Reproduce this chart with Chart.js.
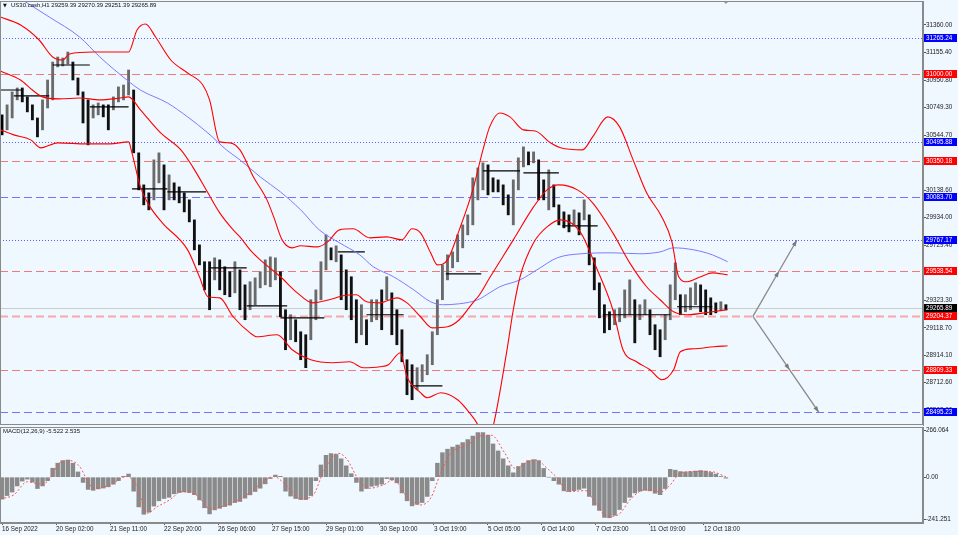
<!DOCTYPE html>
<html>
<head>
<meta charset="utf-8">
<script src="https://cdn.jsdelivr.net/npm/chart.js@4.4.0/dist/chart.umd.min.js"></script>
<style>
  html, body { margin: 0; padding: 0; background: #F0F8FF; }
  #wrap { position: relative; width: 958px; height: 535px; overflow: hidden; background: #F0F8FF; font-family: "Liberation Sans", Arial, sans-serif; }
  #c1 { position: absolute; left: 0; top: 0; }
  #c2 { position: absolute; left: 0; top: 426px; }
  .txt { position: absolute; font-size: 6px; color: #111; white-space: nowrap; }
  .tri { position: absolute; font-family: "DejaVu Sans", sans-serif; font-size: 5px; color: #111; }
</style>
</head>
<body>
<div id="wrap">
  <canvas id="c1" width="958" height="426"></canvas>
  <canvas id="c2" width="958" height="109"></canvas>
  <div class="tri" style="left:3px;top:2px">▼</div>
  <div class="txt" style="left:11px;top:2px">US30.cash,H1 29259.39 29270.39 29251.39 29265.89</div>
  <div class="txt" style="left:3px;top:428px">MACD(12,26,9) -5.522 2.535</div>
</div>
<script>
// DADOS (H1 bars, one sample every 3 bars)
const SAMPLE_STEP = 3;
const priceHigh = [
  30695, 30769, 30865, 30894, 30894, 30828, 30769, 30672, 30806, 30953,
  31086, 31123, 31116, 31160, 31086, 30968, 30865, 30806, 30769, 30783,
  30769, 30769, 30828, 30902, 30916, 31027, 30879, 30414, 30177, 30118,
  30362, 30414, 30325, 30251, 30192, 30162, 30118, 30066, 29918, 29733,
  29608, 29608, 29637, 29622, 29571, 29534, 29608, 29548, 29437, 29460,
  29489, 29534, 29622, 29644, 29637, 29534, 29253, 29216, 29179, 29090,
  29068, 29327, 29400, 29608, 29807, 29711, 29726, 29659, 29548, 29497,
  29327, 29290, 29179, 29327, 29327, 29400, 29497, 29378, 29253, 29105,
  28883, 28846, 28824, 28846, 28920, 29090, 29327, 29585, 29659, 29681,
  29807, 29881, 29955, 30229, 30303, 30340, 30325, 30229, 30214, 30177,
  30103, 30214, 30377, 30458, 30421, 30421, 30362, 30214, 30288, 30177,
  30029, 29977, 29955, 29992, 29970, 30066, 29955, 29637, 29452, 29290,
  29238, 29253, 29267, 29400, 29474, 29327, 29290, 29327, 29253, 29142,
  29105, 29216, 29437, 29600, 29364, 29364, 29415, 29452, 29437, 29400,
  29341, 29304, 29312, 29290
];
const priceLow = [
  30547, 30584, 30672, 30806, 30791, 30717, 30658, 30532, 30584, 30746,
  30806, 31050, 31057, 31072, 30953, 30842, 30635, 30473, 30672, 30695,
  30680, 30584, 30732, 30791, 30806, 30842, 30414, 30140, 30029, 29992,
  30066, 30192, 29992, 30066, 30066, 30044, 29977, 29903, 29696, 29585,
  29400, 29253, 29474, 29400, 29364, 29349, 29378, 29253, 29179, 29253,
  29290, 29415, 29437, 29423, 29474, 29201, 28957, 29031, 29016, 28883,
  28824, 29031, 29179, 29327, 29548, 29622, 29608, 29327, 29253, 29179,
  29008, 29068, 28994, 29164, 29179, 29105, 29327, 29068, 28994, 28868,
  28624, 28587, 28661, 28720, 28772, 28846, 29068, 29327, 29474, 29563,
  29608, 29711, 29807, 29881, 30066, 30140, 30103, 30125, 30125, 30029,
  29955, 29881, 30140, 30310, 30325, 30340, 30066, 30066, 29992, 30014,
  29881, 29859, 29829, 29881, 29807, 29918, 29585, 29400, 29193, 29082,
  29105, 29142, 29164, 29193, 29216, 29008, 29179, 29216, 29068, 28957,
  28905, 29031, 29179, 29327, 29216, 29238, 29253, 29290, 29238, 29216,
  29216, 29230, 29253, 29253
];
const macdHist = [
  -125, -105, -85, -50, -22, -11, -28, -65, -50, -20,
  51, 80, 95, 98, 80, 30, -30, -70, -75, -67,
  -62, -55, -40, -20, 5, 18, -80, -170, -212, -200,
  -165, -135, -122, -115, -95, -88, -84, -88, -100, -130,
  -175, -210, -187, -178, -168, -160, -145, -139, -120, -101,
  -82, -63, -38, -8, 12, 5, -80, -108, -122, -128,
  -128, -105, -20, 70, 125, 135, 130, 105, 65, 20,
  -30, -80, -65, -52, -47, -40, -8, -15, -32, -90,
  -135, -164, -155, -145, -110, -20, 80, 140, 160, 172,
  184, 198, 215, 235, 255, 255, 240, 190, 150, 105,
  65, 25, 61, 80, 95, 100, 95, 50, 0, -20,
  -40, -78, -82, -77, -70, -63, -110, -160, -190, -230,
  -232, -218, -185, -145, -115, -90, -80, -75, -78, -92,
  -100, -65, 45, 40, 32, 30, 32, 35, 38, 35,
  27, 18, 4, -5.522
];

const signalBars = [-1, 7, 15, 23, 28, 34, 40, 46, 52, 56, 64, 74, 80, 86, 92, 100, 106, 116, 123, 133,
  145, 155, 161, 169, 177, 184, 191, 199, 204, 212, 218, 226, 232, 240, 248, 254, 260, 266, 276, 283,
  290, 298, 304, 310, 316, 324, 330, 335, 346, 351, 359, 365, 373, 381, 391, 396, 402, 411, 420, 429];
const signalValues = [-125, -101, -26, -40, -15, 80, 95, 61, -44, -63, -44, 4, -53, -206, -169, -126, -83, -107, -178, -159,
  -101, -25, 4, -53, -124, -107, 42, 137, 108, -25, -63, -44, -15, -111, -159, -120, 23, 137, 184, 235,
  240, 137, 51, 80, 99, 42, -15, -83, -77, -139, -225, -216, -120, -72, -83, -44, 23, 32, 32, 2.535];

const bbUpperBars = [-1, 11, 22, 30, 36, 40, 54, 75, 80, 85, 91, 100, 110, 119, 123, 129, 135, 141, 149, 157,
  161, 166, 172, 177, 187, 193, 200, 208, 218, 228, 237, 243, 248, 254, 258, 264, 271, 279, 285, 289,
  295, 301, 309, 316, 325, 331, 344, 350, 359, 366, 374, 382, 391, 397, 401, 406, 414, 421, 430];
const bbUpper = [31419, 31360, 31249, 31123, 31101, 31146, 31160, 31160, 31323, 31367, 31271, 31101, 31005, 30916, 30806, 30495, 30488, 30436, 30236, 30066,
  29940, 29770, 29711, 29726, 29718, 29755, 29844, 29852, 29785, 29792, 29770, 29852, 29822, 29674, 29585, 29622, 29844, 30140, 30436, 30606,
  30709, 30680, 30584, 30576, 30488, 30451, 30436, 30532, 30680, 30606, 30362, 30118, 29940, 29755, 29497, 29460, 29497, 29526, 29511];

const bbMiddleBars = [-1, 11, 18, 24, 34, 46, 58, 70, 75, 82, 94, 106, 113, 122, 129, 137, 141, 147, 153, 165,
  175, 184, 194, 202, 210, 216, 224, 234, 240, 248, 255, 264, 271, 279, 283, 289, 303, 315, 323, 330,
  341, 350, 362, 372, 382, 390, 398, 406, 421, 430];
const bbMiddle = [31020, 30953, 30879, 30828, 30813, 30820, 30806, 30820, 30828, 30732, 30561, 30436, 30310, 30118, 29970, 29844, 29792, 29696, 29622, 29497,
  29378, 29304, 29327, 29356, 29364, 29312, 29304, 29341, 29304, 29201, 29119, 29127, 29179, 29304, 29364, 29489, 29770, 30014, 30140, 30177,
  30140, 30044, 29822, 29600, 29423, 29327, 29238, 29216, 29238, 29253];

const bbLowerBars = [-1, 7, 17, 23, 33, 50, 64, 75, 77, 82, 87, 95, 110, 117, 122, 129, 137, 147, 151, 163,
  172, 183, 196, 206, 214, 224, 229, 236, 240, 248, 252, 260, 270, 277, 282, 287, 291, 299, 303, 307,
  315, 323, 331, 343, 352, 362, 368, 376, 384, 391, 398, 402, 410, 422, 430];
const bbLower = [30584, 30547, 30510, 30451, 30488, 30480, 30480, 30495, 30414, 30162, 30029, 29896, 29696, 29497, 29349, 29341, 29201, 29082, 29053, 29068,
  28957, 28883, 28861, 28868, 28824, 28831, 28846, 28935, 28757, 28639, 28602, 28639, 28587, 28491, 28402, 28254, 28387, 28935, 29253, 29497,
  29748, 29866, 29918, 29822, 29571, 29253, 28957, 28868, 28809, 28735, 28809, 28942, 28964, 28979, 28986];

const maBars = [-1, 28, 46, 58, 74, 82, 98, 110, 122, 133, 141, 153, 165, 177, 188, 200, 212, 220, 232, 244,
  254, 261, 271, 282, 289, 295, 307, 317, 329, 343, 362, 378, 390, 398, 410, 421, 430];
const maValues = [31648, 31419, 31271, 31123, 30953, 30879, 30783, 30680, 30561, 30436, 30362, 30236, 30125, 29992, 29844, 29748, 29659, 29571, 29497, 29400,
  29312, 29290, 29297, 29327, 29378, 29423, 29474, 29548, 29637, 29667, 29674, 29667, 29681, 29711, 29696, 29659, 29608];

// black horizontal segments
const segStart = [-1, 7, 30, 52, 77, 98, 123, 145, 165, 199, 216, 242, 263, 285, 309, 332, 356, 400];
const segEnd = [12, 28, 52, 75, 98, 121, 145, 169, 191, 215, 238, 261, 284, 307, 330, 353, 396, 421];
const segPrice = [30879, 30835, 31064, 30754, 30147, 30125, 29563, 29282, 29193, 29681, 29216, 28690, 29519, 30280, 30266, 29874, 29216, 29275];

// niveis
const blueDotted = [31265.24, 30495.88, 29767.17];
const blueDashed = [30083.70, 28495.23];
const redDashed = [31000.00, 30350.18, 29538.54, 28809.33];
const pivotLevel = 29204.37;
const lastPrice = 29265.89;
const upTargets = [29538.54, 29767.17];
const downTargets = [28809.33, 28495.23];
const arrowBars = [445, 471, 484];

const priceTicks = [31360.00, 31155.40, 30950.80, 30749.30, 30544.70, 30340.10, 30138.60, 29934.00,
  29729.40, 29527.90, 29323.30, 29118.70, 28914.10, 28712.60, 28508.00];
const macdTicks = [266.064, 0, -241.251];
const xLabelBars = [0, 32, 64, 96, 128, 160, 192, 224, 256, 288, 320, 352, 384, 416];
const xLabels = ['16 Sep 2022', '20 Sep 02:00', '21 Sep 11:00', '22 Sep 20:00', '26 Sep 06:00', '27 Sep 15:00', '29 Sep 01:00',
  '30 Sep 10:00', '3 Oct 19:00', '5 Oct 05:00', '6 Oct 14:00', '7 Oct 23:00', '11 Oct 09:00', '12 Oct 18:00'];

const X_MIN = -1.2, X_MAX = 545.8;
const FONT = { family: '"Liberation Sans", Arial, sans-serif', size: 6.3 };
const AXIS_W = 35;

const sampleBars = priceHigh.map((_, i) => i * SAMPLE_STEP);
const pts = (xs, ys) => xs.map((x, i) => ({ x: x, y: ys[i] }));

const barColors = priceHigh.map((h, i) => {
  if (i === 0) return '#000000';
  const mid = (h + priceLow[i]) / 2, prev = (priceHigh[i - 1] + priceLow[i - 1]) / 2;
  return mid < prev ? '#111111' : '#6a6a6a';
});

const segData = [];
segStart.forEach((s, i) => {
  segData.push({ x: s, y: segPrice[i] }, { x: segEnd[i], y: segPrice[i] }, { x: segEnd[i], y: null });
});

function noPad(s) { s.paddingTop = 0; s.paddingBottom = 0; s.paddingLeft = 0; s.paddingRight = 0; }

// PLUGINS
const framePlugin = {
  id: 'frame',
  afterDraw(chart) {
    const { ctx, chartArea: a } = chart;
    ctx.save();
    ctx.strokeStyle = '#8a8a8a';
    ctx.lineWidth = 1;
    ctx.strokeRect(a.left + 0.5, a.top + 0.5, a.right - a.left - 1, a.bottom - a.top - 1);
    ctx.restore();
  }
};

function hLine(ctx, a, py, color, dash, w) {
  ctx.strokeStyle = color; ctx.lineWidth = w; ctx.setLineDash(dash);
  ctx.beginPath(); ctx.moveTo(a.left, py); ctx.lineTo(a.right, py); ctx.stroke();
}

function priceBox(ctx, a, py, value, bg) {
  ctx.fillStyle = bg;
  ctx.fillRect(a.right + 1, Math.round(py) - 4, AXIS_W - 2, 8);
  ctx.fillStyle = '#ffffff';
  ctx.font = FONT.size + 'px ' + FONT.family;
  ctx.textBaseline = 'middle';
  ctx.textAlign = 'left';
  ctx.fillText(value.toFixed(2), a.right + 3, Math.round(py) + 0.5);
}

const levelsPlugin = {
  id: 'levels',
  beforeDatasetsDraw(chart) {
    const { ctx, chartArea: a, scales: { y } } = chart;
    const py = v => Math.round(y.getPixelForValue(v)) + 0.5;
    ctx.save();
    hLine(ctx, a, py(lastPrice), '#c9cdd2', [], 1);
    blueDotted.forEach(v => hLine(ctx, a, py(v), '#5c5cff', [1, 2], 1));
    blueDashed.forEach(v => hLine(ctx, a, py(v), '#7474ff', [8, 4], 1));
    redDashed.forEach(v => hLine(ctx, a, py(v), '#f07a7a', [8, 4], 1));
    hLine(ctx, a, py(pivotLevel), '#f6a8a8', [8, 4], 2);
    ctx.restore();
  },
  afterDatasetsDraw(chart) {
    const { ctx, scales: { x, y } } = chart;
    const x0 = x.getPixelForValue(arrowBars[0]), y0 = y.getPixelForValue(pivotLevel);
    ctx.save();
    [[upTargets, arrowBars[1]], [downTargets, arrowBars[2]]].forEach(([targets, endBar]) => {
      const x1 = x.getPixelForValue(endBar), y1 = y.getPixelForValue(targets[targets.length - 1]);
      ctx.strokeStyle = '#8a8a8a'; ctx.fillStyle = '#7a7a7a'; ctx.lineWidth = 1.3;
      ctx.beginPath(); ctx.moveTo(x0, y0); ctx.lineTo(x1, y1); ctx.stroke();
      const ang = Math.atan2(y1 - y0, x1 - x0);
      targets.forEach(t => {
        const f = (y.getPixelForValue(t) - y0) / (y1 - y0);
        const hx = x0 + (x1 - x0) * f, hy = y0 + (y1 - y0) * f;
        ctx.beginPath();
        ctx.moveTo(hx, hy);
        ctx.lineTo(hx - 6 * Math.cos(ang) + 2.2 * Math.sin(ang), hy - 6 * Math.sin(ang) - 2.2 * Math.cos(ang));
        ctx.lineTo(hx - 6 * Math.cos(ang) - 2.2 * Math.sin(ang), hy - 6 * Math.sin(ang) + 2.2 * Math.cos(ang));
        ctx.closePath(); ctx.fill();
      });
    });
    // chart shift marker above the last bar
    const mx = x.getPixelForValue(sampleBars[sampleBars.length - 1]);
    ctx.fillStyle = '#9a9a9a';
    ctx.beginPath(); ctx.moveTo(mx - 3, 1); ctx.lineTo(mx + 3, 1); ctx.lineTo(mx, 4); ctx.closePath(); ctx.fill();
    ctx.restore();
  },
  afterDraw(chart) {
    const { ctx, chartArea: a, scales: { y } } = chart;
    ctx.save();
    blueDotted.concat(blueDashed).forEach(v => priceBox(ctx, a, y.getPixelForValue(v), v, '#0000ff'));
    redDashed.concat([pivotLevel]).forEach(v => priceBox(ctx, a, y.getPixelForValue(v), v, '#ff0000'));
    priceBox(ctx, a, y.getPixelForValue(lastPrice), lastPrice, '#000000');
    ctx.restore();
  }
};

const lineDs = (label, xs, ys, color, width, order) => ({
  type: 'line', label: label, data: pts(xs, ys), borderColor: color, borderWidth: width,
  pointRadius: 0, cubicInterpolationMode: 'monotone', order: order
});

// GRAFICO DE PRECO
new Chart(document.getElementById('c1'), {
  type: 'bar',
  data: {
    datasets: [
      lineDs('BB upper', bbUpperBars, bbUpper, '#ff0000', 1.1, 1),
      lineDs('BB middle', bbMiddleBars, bbMiddle, '#ff0000', 1.1, 1),
      lineDs('BB lower', bbLowerBars, bbLower, '#ff0000', 1.1, 1),
      lineDs('MA', maBars, maValues, '#7a7aff', 1, 2),
      { type: 'line', label: 'segments', data: segData, borderColor: '#000000', borderWidth: 1.2, pointRadius: 0, spanGaps: false, order: 3 },
      {
        type: 'bar', label: 'US30.cash', order: 5,
        data: sampleBars.map((b, i) => ({ x: b, y: [priceLow[i], priceHigh[i]] })),
        backgroundColor: barColors, barThickness: 2.2
      }
    ]
  },
  options: {
    responsive: false, animation: false, events: [],
    layout: { padding: { top: 1, bottom: 1, left: 0, right: 0 } },
    plugins: { legend: { display: false }, tooltip: { enabled: false } },
    scales: {
      x: { type: 'linear', display: false, min: X_MIN, max: X_MAX, offset: false },
      y: {
        type: 'linear', position: 'right', min: 28400, max: 31537.6, beginAtZero: false,
        afterFit: s => { s.width = AXIS_W; noPad(s); },
        afterBuildTicks: s => { s.ticks = priceTicks.map(v => ({ value: v })); },
        ticks: { callback: v => v.toFixed(2), font: FONT, color: '#1a1a1a', padding: 0, autoSkip: false },
        grid: { display: true, drawOnChartArea: false, drawTicks: true, tickLength: 3, color: '#555555' },
        border: { display: true, color: '#8a8a8a' }
      }
    }
  },
  plugins: [levelsPlugin, framePlugin]
});

// MACD
new Chart(document.getElementById('c2'), {
  type: 'bar',
  data: {
    datasets: [
      {
        type: 'line', label: 'Signal', data: pts(signalBars, signalValues), borderColor: '#ff5050', borderWidth: 1,
        borderDash: [2, 2], pointRadius: 0, cubicInterpolationMode: 'monotone', order: 1
      },
      {
        type: 'bar', label: 'MACD', order: 2,
        data: sampleBars.map((b, i) => ({ x: b, y: macdHist[i] })),
        backgroundColor: '#8a8a8a', barThickness: 3.8
      }
    ]
  },
  options: {
    responsive: false, animation: false, events: [],
    layout: { padding: { top: 1, bottom: 0, left: 0, right: 0 } },
    plugins: { legend: { display: false }, tooltip: { enabled: false } },
    scales: {
      x: {
        type: 'linear', min: X_MIN, max: X_MAX, offset: false,
        afterFit: s => { s.height = 12; noPad(s); },
        afterBuildTicks: s => { s.ticks = xLabelBars.map(v => ({ value: v })); },
        ticks: { callback: (v, i) => xLabels[i], align: 'start', maxRotation: 0, autoSkip: false, padding: 0, font: FONT, color: '#1a1a1a' },
        grid: { display: true, drawOnChartArea: false, drawTicks: true, tickLength: 2, color: '#555555', offset: false },
        border: { display: true, color: '#8a8a8a' }
      },
      y: {
        type: 'linear', position: 'right', min: -262, max: 287, beginAtZero: false,
        afterFit: s => { s.width = AXIS_W; noPad(s); },
        afterBuildTicks: s => { s.ticks = macdTicks.map(v => ({ value: v })); },
        ticks: { callback: v => (v === 0 ? '0.00' : String(v)), font: FONT, color: '#1a1a1a', padding: 0, autoSkip: false },
        grid: { display: true, drawOnChartArea: false, drawTicks: true, tickLength: 3, color: '#555555' },
        border: { display: true, color: '#8a8a8a' }
      }
    }
  },
  plugins: [framePlugin]
});
</script>
</body>
</html>
